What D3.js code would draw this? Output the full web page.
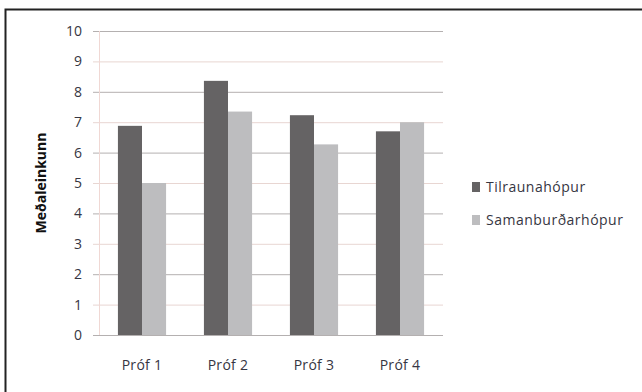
<!DOCTYPE html>
<html>
<head>
<meta charset="utf-8">
<script src="https://cdn.jsdelivr.net/npm/d3@7"></script>
<style>
  body { margin: 0; background: #fff; }
  svg { display: block; }
</style>
</head>
<body>
<svg id="chart" width="642" height="392"></svg>
<script>
const categories = ["Próf 1", "Próf 2", "Próf 3", "Próf 4"];
const seriesNames = ["Tilraunahópur", "Samanburðarhópur"];
const tilraun = [6.88, 8.36, 7.23, 6.7];
const samanburdur = [5.0, 7.35, 6.27, 7.0];
const yTicks = [0, 1, 2, 3, 4, 5, 6, 7, 8, 9, 10];
const colors = ["#656364", "#bdbdbf"];

const svg = d3.select("#chart");
const margins = { left: 99, right: 199, top: 31, bottom: 57 };
const width = 642 - margins.left - margins.right;
const height = 392 - margins.top - margins.bottom;
const font = "Open Sans, 'Liberation Sans', sans-serif";
const textColor = "#363642";

// chart border (top and left visible)
svg.append("path")
  .attr("d", "M5.5,392 V9.5 H642")
  .attr("fill", "none")
  .attr("stroke", "#222")
  .attr("stroke-width", 2);

const g = svg.append("g").attr("transform", `translate(${margins.left}, ${margins.top})`);

const x = d3.scaleBand().domain(categories).range([0, width]).paddingInner(0.44).paddingOuter(0.22);
const xs = d3.scaleBand().domain(seriesNames).range([0, x.bandwidth()]);
const y = d3.scaleLinear().domain([0, 10]).range([height, 0]);

// gridlines
g.append("g")
  .selectAll("line")
  .data(yTicks)
  .join("line")
  .attr("x1", -6)
  .attr("x2", width)
  .attr("y1", (d) => y(d) + 0.5)
  .attr("y2", (d) => y(d) + 0.5)
  .attr("stroke", (d) => (d % 2 ? "#e8d6d2" : "#b4b0b0"))
  .attr("stroke-width", 1);

// vertical axis line
g.append("line")
  .attr("x1", 0.5).attr("x2", 0.5)
  .attr("y1", 0).attr("y2", height)
  .attr("stroke", "#f0d8d4");

// Y axis labels
const yAxis = g.append("g").call(d3.axisLeft(y).tickValues(yTicks).tickSize(0).tickPadding(17));
yAxis.select(".domain").remove();
yAxis.selectAll("text")
  .attr("font-family", font)
  .attr("font-size", 14)
  .attr("fill", textColor);

// bars
const data = categories.map((c, i) => ({ cat: c, vals: [tilraun[i], samanburdur[i]] }));
g.selectAll(".grp")
  .data(data)
  .join("g")
  .attr("class", "grp")
  .attr("transform", (d) => `translate(${x(d.cat)},0)`)
  .selectAll("rect")
  .data((d) => d.vals.map((v, j) => ({ name: seriesNames[j], v: v, j: j })))
  .join("rect")
  .attr("x", (d) => xs(d.name))
  .attr("width", xs.bandwidth())
  .attr("y", (d) => y(d.v))
  .attr("height", (d) => height - y(d.v))
  .attr("fill", (d) => colors[d.j]);

// X axis labels
const xAxis = g.append("g")
  .attr("transform", `translate(0, ${height})`)
  .call(d3.axisBottom(x).tickSize(0).tickPadding(25));
xAxis.select(".domain").remove();
xAxis.selectAll("text")
  .attr("font-family", font)
  .attr("font-size", 14)
  .attr("letter-spacing", 0.3)
  .attr("fill", textColor);

// Y title
svg.append("text")
  .attr("transform", `translate(46, ${margins.top + height / 2}) rotate(-90)`)
  .attr("text-anchor", "middle")
  .attr("font-family", font)
  .attr("font-weight", "bold")
  .attr("font-size", 14)
  .attr("fill", "#111")
  .text("Meðaleinkunn");

// legend
const legend = svg.append("g").attr("transform", "translate(472, 182)");
seriesNames.forEach((name, i) => {
  const row = legend.append("g").attr("transform", `translate(0, ${i * 33})`);
  row.append("rect").attr("width", 8).attr("height", 10).attr("fill", colors[i]);
  row.append("text")
    .attr("x", 14)
    .attr("y", 10)
    .attr("font-family", font)
    .attr("font-size", 14)
    .attr("letter-spacing", 0.5)
    .attr("fill", textColor)
    .text(name);
});
</script>
</body>
</html>
